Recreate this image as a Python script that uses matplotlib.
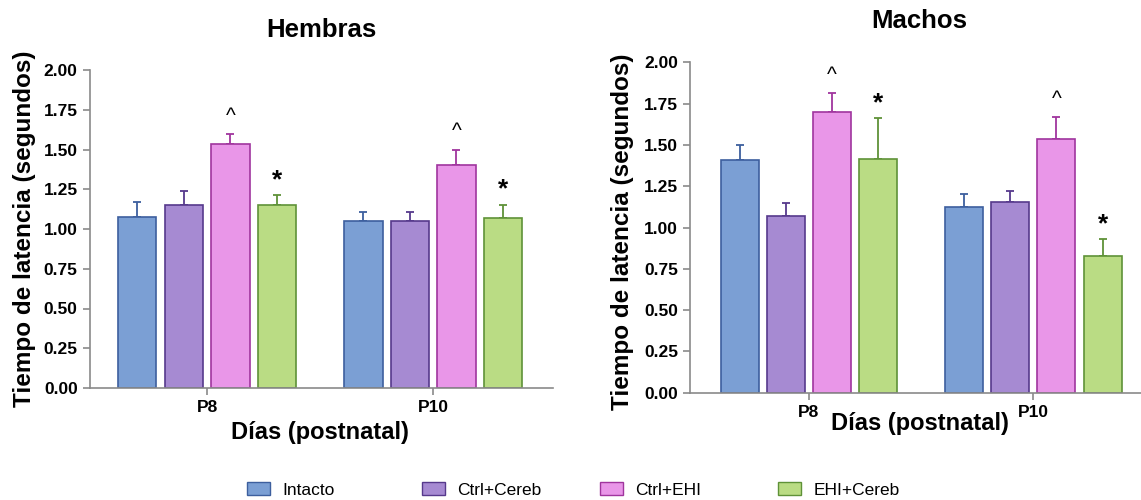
import matplotlib
matplotlib.use("Agg")
import matplotlib.pyplot as plt
import numpy as np
from matplotlib.patches import Patch

groups = ["P8", "P10"]
series = ["Intacto", "Ctrl+Cereb", "Ctrl+EHI", "EHI+Cereb"]

hembras_mean = {
    "Intacto":    [1.078, 1.049],
    "Ctrl+Cereb": [1.148, 1.049],
    "Ctrl+EHI":   [1.537, 1.405],
    "EHI+Cereb":  [1.148, 1.072],
}
hembras_err = {
    "Intacto":    [0.090, 0.055],
    "Ctrl+Cereb": [0.090, 0.055],
    "Ctrl+EHI":   [0.060, 0.095],
    "EHI+Cereb":  [0.067, 0.082],
}
machos_mean = {
    "Intacto":    [1.409, 1.124],
    "Ctrl+Cereb": [1.070, 1.154],
    "Ctrl+EHI":   [1.699, 1.538],
    "EHI+Cereb":  [1.415, 0.829],
}
machos_err = {
    "Intacto":    [0.088, 0.077],
    "Ctrl+Cereb": [0.080, 0.065],
    "Ctrl+EHI":   [0.113, 0.131],
    "EHI+Cereb":  [0.250, 0.099],
}
# significance marks per series per group
marks = {
    "Ctrl+EHI":  ["^", "^"],
    "EHI+Cereb": ["*", "*"],
}

fills = {"Intacto": "#7b9fd4", "Ctrl+Cereb": "#a68ad2", "Ctrl+EHI": "#e996e8", "EHI+Cereb": "#badc84"}
edges = {"Intacto": "#3d5f9e", "Ctrl+Cereb": "#56398c", "Ctrl+EHI": "#a0359e", "EHI+Cereb": "#5f9238"}

FONT = ['Liberation Sans', 'DejaVu Sans']
plt.rcParams['font.family'] = FONT

fig = plt.figure(figsize=(11.41, 5.0), dpi=100)
axL = fig.add_axes([89.5 / 1141, 1 - 388 / 500, 463.5 / 1141, 318 / 500])
axR = fig.add_axes([690 / 1141, 1 - 392.7 / 500, 451 / 1141, 330.4 / 500])

width = 0.17
step = 0.206
x = np.arange(len(groups))

def draw(ax, means, errs, title, xlim, title_x, ylab_xy, xlab_xy):
    for i, s in enumerate(series):
        pos = x + (i - 1.5) * step
        ax.bar(pos, means[s], width, color=fills[s], edgecolor=edges[s], linewidth=1.2, zorder=2)
        ax.errorbar(pos, means[s], yerr=[np.zeros(len(groups)), errs[s]], fmt='none',
                    ecolor=edges[s], elinewidth=1.3, capsize=3.2, capthick=1.3, zorder=1)
        if s in marks:
            for j, m in enumerate(marks[s]):
                top = means[s][j] + errs[s][j]
                if m == "^":
                    ax.annotate(m, (pos[j], top), xytext=(0, 6), textcoords='offset points',
                                ha='center', va='bottom', fontsize=15)
                else:
                    ax.annotate(m, (pos[j], top), xytext=(0, 2), textcoords='offset points',
                                ha='center', va='bottom', fontsize=19, fontweight='bold')
    ax.set_ylim(0, 2.0)
    ax.set_xlim(*xlim)
    yt = np.arange(0, 2.01, 0.25)
    ax.set_yticks(yt)
    ax.set_yticklabels([f"{v:.2f}" for v in yt])
    ax.set_xticks(x)
    ax.set_xticklabels(groups)
    for sp in ['top', 'right']:
        ax.spines[sp].set_visible(False)
    for sp in ['left', 'bottom']:
        ax.spines[sp].set_color('#8a8a8a')
        ax.spines[sp].set_linewidth(1.2)
    ax.tick_params(axis='both', colors='#8a8a8a', labelcolor='black', length=5, width=1.2,
                   labelsize=12.5)
    for lab in ax.get_xticklabels() + ax.get_yticklabels():
        lab.set_fontweight('bold')
    ax.text(title_x, 1.126, title, transform=ax.transAxes, ha='center', va='center',
            fontsize=18.5, fontweight='bold')
    ax.set_ylabel("Tiempo de latencia (segundos)", fontsize=17.5, fontweight='bold')
    ax.yaxis.set_label_coords(*ylab_xy)
    ax.set_xlabel("Días (postnatal)", fontsize=17, fontweight='bold')
    ax.xaxis.set_label_coords(*xlab_xy)

draw(axL, hembras_mean, hembras_err, "Hembras", (-0.52, 1.53), 0.4995, (-0.141, 0.5), (0.497, -0.1415))
draw(axR, machos_mean, machos_err, "Machos", (-0.53, 1.48), 0.508, (-0.149, 0.486), (0.51, -0.092))
axL.xaxis.label.set_va('center')
axR.xaxis.label.set_va('center')
axL.yaxis.label.set_va('center')
axR.yaxis.label.set_va('center')

leg_x = [247, 422, 600, 778]
for s, lx in zip(series, leg_x):
    h = Patch(facecolor=fills[s], edgecolor=edges[s], linewidth=1.0)
    fig.legend([h], [s], loc='center left', bbox_to_anchor=(lx / 1141, 1 - 490 / 500),
               frameon=False, fontsize=12.5, handlelength=1.3, handleheight=0.7,
               handletextpad=0.75, borderpad=0, borderaxespad=0)

fig.savefig("out.png", dpi=100)
